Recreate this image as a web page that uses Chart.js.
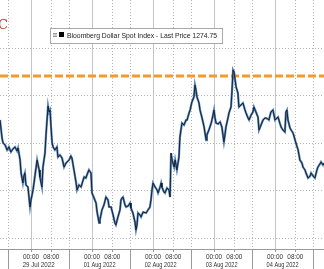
<!DOCTYPE html>
<html>
<head>
<meta charset="utf-8">
<script src="https://cdn.jsdelivr.net/npm/chart.js@4.4.0/dist/chart.umd.min.js"></script>
<style>
  html, body { margin: 0; padding: 0; background: #fff; overflow: hidden; }
  canvas { display: block; }
</style>
</head>
<body>
<canvas id="myChart" width="324" height="269"></canvas>
<script>
// hours from 29 Jul 2022 00:00, weekend left out (one trading day = 24)
var hours = [
    -12.2, -11.4, -11.0, -10.2, -9.4, -8.7, -7.9, -7.1, -6.3, -5.5, -5.1, -4.3, -3.9, -3.2, -2.8, -2.4, -2.0, -1.2, -0.4,
    0.0, 0.8, 1.6, 2.4, 3.2, 3.5, 4.3, 4.7, 5.5, 5.9, 6.7, 7.1, 7.5, 7.9, 8.3, 8.7, 9.4, 10.2, 10.6, 11.4, 12.2,
    13.0, 13.8, 15.0, 15.7, 16.1, 16.9, 17.7, 18.1, 18.9, 19.7, 20.5, 20.9, 21.6, 22.0, 22.8, 23.6,
    24.0, 24.8, 25.6, 26.0, 26.8, 27.1, 27.9, 28.7, 29.5, 30.3, 30.7, 31.5, 32.3, 33.0, 33.4, 34.2, 35.0, 35.4,
    35.8, 36.2, 37.0, 37.4, 38.2, 39.0, 39.3, 40.1, 40.9, 41.3, 41.7, 42.1, 42.9, 43.3, 44.1, 45.3, 46.0, 46.8, 47.2, 47.6,
    48.0, 48.8, 49.6, 50.0, 50.8, 51.2, 51.5, 52.3, 52.7, 53.5, 54.3, 54.7, 55.1, 55.5, 56.3, 56.7, 57.4, 58.2, 58.6,
    59.4, 60.2, 61.0, 61.4, 62.2, 62.6, 63.3, 64.1, 64.5, 64.9, 65.3, 66.1, 66.5, 67.3, 68.1, 68.9, 69.2, 70.0, 70.8, 71.2,
    72.0, 72.4, 72.8, 73.6, 74.4, 75.1, 75.9, 76.3, 76.7, 77.5, 77.9, 78.7, 79.1, 79.5, 79.9, 80.3, 80.7, 81.4, 81.8,
    82.6, 83.4, 84.2, 84.6, 85.4, 85.8, 86.6, 87.3, 87.7, 88.5, 89.3, 89.7, 90.5, 91.3, 92.1, 92.5, 93.2, 93.6, 94.4, 95.2,
    96.0, 96.8, 97.2, 98.0, 98.4, 99.1, 99.9, 100.3, 100.7, 101.1, 101.9, 102.3, 103.1, 103.9, 104.7, 105.1, 105.8,
    106.6, 107.0, 107.8, 108.2, 109.0, 109.8, 110.2, 111.0, 111.7, 112.5, 112.9, 113.7, 114.1, 114.9, 115.3
]
var price = [
    1277.37, 1275.47, 1274.95, 1274.74, 1274.21, 1274.53, 1274.00, 1274.32, 1274.53, 1274.11, 1274.42, 1273.16, 1271.79, 1270.74, 1271.47, 1271.79, 1270.53, 1270.32, 1268.21,
    1268.95, 1270.00, 1271.58, 1273.16, 1272.11, 1271.37, 1270.32, 1272.42, 1273.89, 1275.79, 1278.84, 1278.21, 1278.42, 1276.53, 1274.95, 1274.53, 1274.21, 1274.53, 1273.47, 1273.68, 1273.37,
    1272.42, 1272.84, 1273.16, 1273.58, 1273.37, 1272.11, 1270.84, 1270.00, 1270.53, 1270.32, 1271.05, 1271.37, 1271.26, 1271.58, 1272.11, 1271.79,
    1269.68, 1269.16, 1268.63, 1267.68, 1266.53, 1266.84, 1267.89, 1268.42, 1269.26, 1268.95, 1268.21, 1268.21, 1267.37, 1266.53, 1266.32, 1267.16, 1267.89, 1268.95,
    1269.16, 1269.26, 1268.42, 1268.21, 1268.32, 1268.63, 1268.11, 1267.58, 1266.63, 1265.79, 1266.32, 1267.58, 1267.37, 1267.16, 1267.68, 1267.58, 1267.89, 1268.21, 1268.95, 1270.00,
    1270.74, 1270.32, 1270.00, 1269.68, 1270.32, 1270.74, 1270.32, 1269.79, 1269.68, 1270.21, 1270.00, 1269.26, 1273.89, 1273.16, 1272.42, 1273.16, 1272.11, 1273.47, 1275.58,
    1277.05, 1276.84, 1277.37, 1277.37, 1278.11, 1278.42, 1279.26, 1279.79, 1281.05, 1280.53, 1279.79, 1279.16, 1278.42, 1277.58, 1276.63, 1275.26, 1275.79, 1276.32, 1276.95, 1277.37,
    1278.42, 1277.58, 1277.05, 1276.95, 1277.16, 1276.63, 1275.05, 1275.79, 1276.63, 1277.58, 1278.11, 1278.74, 1280.53, 1282.63, 1282.42, 1281.58, 1280.84, 1280.21, 1278.74,
    1278.95, 1279.16, 1278.42, 1278.11, 1277.58, 1277.37, 1277.89, 1278.21, 1278.74, 1278.21, 1277.68, 1276.32, 1276.84, 1277.37, 1277.58, 1277.58, 1277.47, 1277.37, 1278.21, 1278.42,
    1277.37, 1277.58, 1277.68, 1276.95, 1276.63, 1276.32, 1276.11, 1278.21, 1278.42, 1277.37, 1276.53, 1276.32, 1276.00, 1275.26, 1274.53, 1274.21, 1273.16,
    1272.84, 1272.42, 1272.11, 1271.79, 1271.26, 1271.47, 1271.79, 1271.47, 1271.26, 1272.11, 1272.42, 1272.74, 1272.95, 1272.63, 1272.84
]
var priorHigh = 1282.0
var priceGrid = [1265, 1270, 1275, 1280, 1285]
var dayStarts = [-24, 0, 24, 48, 72, 96]
var dayNames = ['28 Jul 2022', '29 Jul 2022', '01 Aug 2022', '02 Aug 2022', '03 Aug 2022', '04 Aug 2022']
var labelHours = [0, 8]
var labelNames = ['00:00', '08:00']
var dottedHours = [8, 15]
var legendText = 'Bloomberg Dollar Spot Index - Last Price 1274.75'

var points = hours.map(function (h, i) { return { x: h, y: price[i] } })

var gridPlugin = {
    id: 'bbgGrid',
    beforeDatasetsDraw: function (chart) {
        var ctx = chart.ctx
        var a = chart.chartArea
        var xs = chart.scales.x
        var ys = chart.scales.y
        ctx.save()
        // dotted price lines
        ctx.strokeStyle = '#b4b4b4'
        ctx.lineWidth = 1
        ctx.setLineDash([1, 2])
        priceGrid.forEach(function (v) {
            var y = Math.round(ys.getPixelForValue(v)) + 0.5
            ctx.beginPath(); ctx.moveTo(a.left, y); ctx.lineTo(a.right, y); ctx.stroke()
        })
        // dotted intraday lines
        dayStarts.forEach(function (d) {
            dottedHours.forEach(function (h) {
                var x = Math.round(xs.getPixelForValue(d + h)) + 0.5
                ctx.beginPath(); ctx.moveTo(x, a.top); ctx.lineTo(x, a.bottom); ctx.stroke()
            })
        })
        // solid day lines
        ctx.setLineDash([])
        ctx.strokeStyle = '#c4c4c4'
        dayStarts.forEach(function (d) {
            var x = Math.round(xs.getPixelForValue(d)) + 0.5
            ctx.beginPath(); ctx.moveTo(x, a.top); ctx.lineTo(x, a.bottom); ctx.stroke()
        })
        ctx.restore()
    },
    afterDraw: function (chart) {
        var ctx = chart.ctx
        var a = chart.chartArea
        var xs = chart.scales.x
        ctx.save()
        // axis line and separators
        ctx.strokeStyle = '#9a9a9a'
        ctx.lineWidth = 1
        ctx.beginPath(); ctx.moveTo(a.left, a.bottom + 0.5); ctx.lineTo(a.right, a.bottom + 0.5); ctx.stroke()
        dayStarts.forEach(function (d) {
            var x = Math.round(xs.getPixelForValue(d + 15)) + 0.5
            ctx.beginPath(); ctx.moveTo(x, a.bottom); ctx.lineTo(x, chart.height); ctx.stroke()
            labelHours.forEach(function (h) {
                var tx = Math.round(xs.getPixelForValue(d + h)) + 0.5
                ctx.beginPath(); ctx.moveTo(tx, a.bottom); ctx.lineTo(tx, a.bottom + 3); ctx.stroke()
            })
        })
        // time and date labels
        ctx.fillStyle = '#333'
        ctx.font = "7.5px 'Liberation Sans', Arial, sans-serif"
        ctx.textAlign = 'center'
        ctx.textBaseline = 'middle'
        dayStarts.forEach(function (d, i) {
            labelHours.forEach(function (h, j) {
                ctx.fillText(labelNames[j], xs.getPixelForValue(d + h), a.bottom + 8, 16)
            })
            ctx.fillText(dayNames[i], xs.getPixelForValue(d + 3), a.bottom + 16, 32)
        })
        // legend box
        ctx.fillStyle = '#fff'
        ctx.fillRect(50.5, 28.5, 172, 15)
        ctx.strokeStyle = '#a8a8a8'
        ctx.strokeRect(50.5, 28.5, 172, 15)
        ctx.strokeStyle = '#9a9a9a'
        for (var k = 0; k < 3; k++) {
            ctx.beginPath(); ctx.moveTo(53, 33.5 + k * 1.5); ctx.lineTo(57, 33.5 + k * 1.5); ctx.stroke()
        }
        ctx.fillStyle = '#000'
        ctx.fillRect(59, 32, 5, 5)
        ctx.fillStyle = '#222'
        ctx.textAlign = 'left'
        ctx.font = "7.5px 'Liberation Sans', Arial, sans-serif"
        ctx.fillText(legendText, 67, 35.5, 150)
        // red letter cut at the left edge
        ctx.fillStyle = '#c0392b'
        ctx.font = "13px 'DejaVu Serif', serif"
        ctx.textBaseline = 'alphabetic'
        ctx.fillText('C', -2, 29)
        ctx.restore()
    }
}

var ctx = document.getElementById('myChart').getContext('2d')
var myChart = new Chart(ctx, {
    type: 'line',
    data: {
        datasets: [{
            data: points,
            borderColor: '#111820',
            borderWidth: 0.9,
            pointRadius: 0,
            tension: 0
        }, {
            data: points,
            borderColor: '#5585bd',
            borderWidth: 2.2,
            pointRadius: 0,
            tension: 0
        }, {
            data: [{ x: hours[0], y: priorHigh }, { x: hours[hours.length - 1], y: priorHigh }],
            borderColor: '#f39a2e',
            borderWidth: 3,
            borderDash: [8, 3],
            pointRadius: 0
        }]
    },
    options: {
        responsive: false,
        animation: false,
        events: [],
        layout: { padding: { left: 0, right: 0, top: 0, bottom: 20 } },
        plugins: { legend: { display: false }, tooltip: { enabled: false } },
        scales: {
            x: { type: 'linear', display: false, min: -12.2, max: 115.28 },
            y: { display: false, min: 1263.79, max: 1290 }
        }
    },
    plugins: [gridPlugin]
})
</script>
</body>
</html>
